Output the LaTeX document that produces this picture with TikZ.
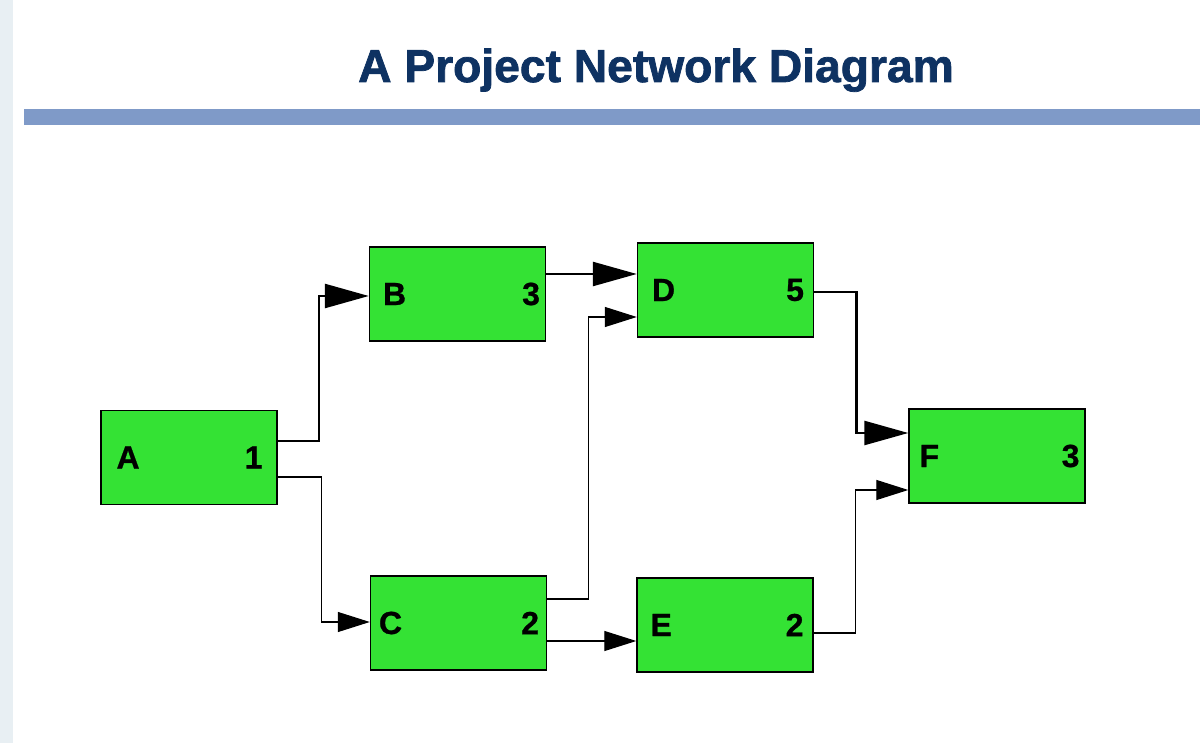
\documentclass[tikz,border=0pt]{standalone}
\usepackage{fontspec}
\setmainfont{Liberation Sans}
\newfontfamily\heavyfont[FakeBold=1.6]{Liberation Sans Bold}
\newfontfamily\labelfont[FakeBold=0.8]{Liberation Sans Bold}
\usetikzlibrary{arrows.meta}
\definecolor{stripgrey}{RGB}{232,239,243}
\definecolor{barblue}{RGB}{127,154,200}
\definecolor{titlenavy}{RGB}{14,50,98}
\definecolor{boxgreen}{RGB}{52,226,52}
\tikzset{
  task/.style={draw=black, line width=1.4pt, fill=boxgreen, minimum width=176pt, minimum height=94pt, inner sep=0pt},
  tasklabel/.style={inner sep=0pt, font=\labelfont\fontsize{32}{34}\selectfont},
  crit/.style={line width=2.5pt, -{Triangle[length=44pt,width=24pt]}},
  norm/.style={line width=1.2pt, -{Triangle[length=32pt,width=20pt]}},
}
\begin{document}
\begin{tikzpicture}[x=1pt,y=-1pt]
\useasboundingbox (0,0) rectangle (1200,743);
\fill[white] (0,0) rectangle (1200,743);
\fill[stripgrey] (0,0) rectangle (13,743);
\fill[barblue] (24,109) rectangle (1200,125);
\node[anchor=base, inner sep=0pt, text=titlenavy, font=\heavyfont\fontsize{46.2}{50}\selectfont] (title) at (656,82) {A Project Network Diagram};

\node[task] (A) at (189,457.5) {};
\node[task] (B) at (457.5,294) {};
\node[task] (C) at (458.5,623) {};
\node[task] (D) at (725.5,290) {};
\node[task] (E) at (725,625) {};
\node[task] (F) at (997,456) {};

\node[tasklabel, anchor=west] (Al) at ([xshift=16pt]A.west) {A};
\node[tasklabel, anchor=east] (An) at ([xshift=-15pt]A.east) {1};
\node[tasklabel, anchor=west] (Bl) at ([xshift=14pt]B.west) {B};
\node[tasklabel, anchor=east] (Bn) at ([xshift=-6pt]B.east) {3};
\node[tasklabel, anchor=west] (Cl) at ([xshift=9pt]C.west) {C};
\node[tasklabel, anchor=east] (Cn) at ([xshift=-8pt]C.east) {2};
\node[tasklabel, anchor=west] (Dl) at ([xshift=15pt]D.west) {D};
\node[tasklabel, anchor=east] (Dn) at ([xshift=-10pt]D.east) {5};
\node[tasklabel, anchor=west] (El) at ([xshift=14pt]E.west) {E};
\node[tasklabel, anchor=east] (En) at ([xshift=-10pt]E.east) {2};
\node[tasklabel, anchor=west] (Fl) at ([xshift=11pt]F.west) {F};
\node[tasklabel, anchor=east] (Fn) at ([xshift=-6pt]F.east) {3};

% A -> B
\draw[crit] ([yshift=16.5pt]A.east) -| ([xshift=-50pt,yshift=-2pt]B.west) -- ([yshift=-2pt]B.west);
% A -> C
\draw[norm] ([yshift=-19.5pt]A.east) -| ([xshift=-48pt,yshift=1pt]C.west) -- ([yshift=1pt]C.west);
% B -> D
\draw[crit] ([yshift=20pt]B.east) -- ([yshift=16pt]D.west);
% C -> D
\draw[norm] ([yshift=24pt]C.east) -| ([xshift=-48pt,yshift=-27pt]D.west) -- ([yshift=-27pt]D.west);
% C -> E
\draw[norm] ([yshift=-18pt]C.east) -- ([yshift=-16pt]E.west);
% D -> F
\draw[crit] ([yshift=-2pt]D.east) -| ([xshift=-52pt,yshift=23pt]F.west) -- ([yshift=23pt]F.west);
% E -> F
\draw[norm] ([yshift=-8pt]E.east) -| ([xshift=-53pt,yshift=-34pt]F.west) -- ([yshift=-34pt]F.west);
\end{tikzpicture}
\end{document}
